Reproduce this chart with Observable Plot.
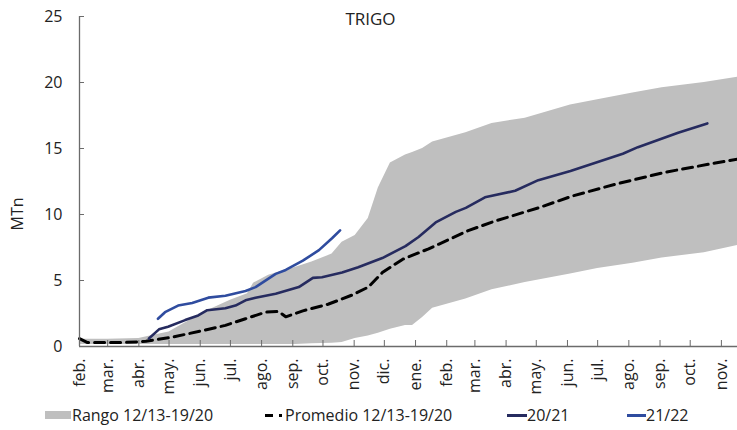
<!DOCTYPE html>
<html><head><meta charset="utf-8">
<script src="https://cdn.jsdelivr.net/npm/d3@7"></script>
<script src="https://cdn.jsdelivr.net/npm/@observablehq/plot@0.6"></script>
<style>
body{margin:0;background:#fff;font-family:"Open Sans",sans-serif;color:#222;}
#wrap{position:relative;width:737px;height:430px;overflow:hidden;}
#title{position:absolute;left:0;width:741px;top:7px;text-align:center;font-size:17px;line-height:24px;}
#ylab{position:absolute;left:17px;top:214px;transform:translate(-50%,-50%) rotate(-90deg);font-size:16px;white-space:nowrap;}
.lg{position:absolute;top:404px;font-size:16px;line-height:22px;white-space:nowrap;}
.sw{position:absolute;}
</style></head><body>
<div id="wrap">
  <div id="chart"></div>
  <div id="title">TRIGO</div>
  <div id="ylab">MTn</div>
  <div id="legend"></div>
</div>
<script>
// ---- data ----
const monthLabels = ["feb.","mar.","abr.","may.","jun.","jul.","ago.","sep.","oct.","nov.","dic.","ene.",
                     "feb.","mar.","abr.","may.","jun.","jul.","ago.","sep.","oct.","nov."];
const tickDates = ["2021-02-01","2021-03-01","2021-04-01","2021-05-01","2021-06-01","2021-07-01","2021-08-01",
  "2021-09-01","2021-10-01","2021-11-01","2021-12-01","2022-01-01","2022-02-01","2022-03-01","2022-04-01",
  "2022-05-01","2022-06-01","2022-07-01","2022-08-01","2022-09-01","2022-10-01","2022-11-01"];
const xDomain = ["2021-02-01","2022-11-17"];
const yTicks = [0,5,10,15,20,25];

const rangeDates = ["2021-02-01","2021-03-01","2021-04-01","2021-04-10","2021-05-01","2021-05-15","2021-06-01",
  "2021-06-08","2021-07-01","2021-07-18","2021-07-24","2021-08-08","2021-09-04","2021-09-20","2021-10-10",
  "2021-10-20","2021-11-02","2021-11-15","2021-11-25","2021-12-07","2021-12-22","2021-12-29","2022-01-08",
  "2022-01-18","2022-02-20","2022-03-18","2022-04-20","2022-06-04","2022-07-01","2022-08-05","2022-09-03",
  "2022-09-23","2022-10-15","2022-11-17"];
const rangeHigh = [0.55,0.55,0.6,0.75,1.1,1.7,2.4,2.7,3.5,4.0,4.8,5.4,6.0,6.4,7.0,7.9,8.4,9.7,12.0,13.9,
  14.5,14.7,15.0,15.5,16.2,16.9,17.3,18.3,18.7,19.2,19.6,19.8,20.0,20.4];
const rangeLow = [0.15,0.15,0.15,0.15,0.15,0.15,0.15,0.15,0.15,0.15,0.15,0.15,0.15,0.2,0.25,0.3,0.6,0.8,1.0,
  1.3,1.6,1.6,2.2,2.9,3.6,4.3,4.85,5.5,5.9,6.3,6.7,6.9,7.1,7.65];

const avgDates = ["2021-02-01","2021-02-09","2021-03-15","2021-04-01","2021-04-08","2021-05-04","2021-06-03",
  "2021-06-26","2021-07-16","2021-08-05","2021-08-18","2021-08-25","2021-09-11","2021-10-06","2021-10-30",
  "2021-11-15","2021-11-29","2021-12-19","2022-01-14","2022-02-23","2022-03-21","2022-05-03","2022-06-06",
  "2022-07-19","2022-09-06","2022-10-26","2022-11-17"];
const avgValues = [0.6,0.3,0.3,0.35,0.4,0.7,1.2,1.6,2.1,2.6,2.65,2.25,2.7,3.2,3.9,4.5,5.6,6.6,7.4,8.8,9.5,
  10.5,11.4,12.3,13.2,13.9,14.2];

const s2021Dates = ["2021-04-11","2021-04-21","2021-04-30","2021-05-17","2021-05-30","2021-06-08","2021-06-26",
  "2021-07-06","2021-07-16","2021-07-26","2021-08-15","2021-09-07","2021-09-21","2021-09-30","2021-10-20",
  "2021-11-05","2021-11-29","2021-12-22","2022-01-04","2022-01-21","2022-02-10","2022-02-20","2022-03-11",
  "2022-04-10","2022-05-03","2022-06-04","2022-07-26","2022-08-10","2022-09-19","2022-10-18"];
const s2021Values = [0.6,1.3,1.5,2.0,2.35,2.75,2.9,3.1,3.5,3.7,4.0,4.5,5.2,5.25,5.6,6.0,6.7,7.6,8.3,9.4,
  10.2,10.5,11.3,11.8,12.6,13.3,14.6,15.1,16.2,16.9];

const s2122Dates = ["2021-04-20","2021-04-27","2021-05-10","2021-05-24","2021-06-09","2021-06-26","2021-07-16",
  "2021-07-26","2021-08-15","2021-08-25","2021-09-11","2021-09-27","2021-10-10","2021-10-18"];
const s2122Values = [2.1,2.6,3.1,3.3,3.7,3.85,4.2,4.5,5.5,5.8,6.5,7.3,8.2,8.8];

const seriesNames = ["Rango 12/13-19/20","Promedio 12/13-19/20","20/21","21/22"];
const colors = {range:"#bfbfbf", avg:"#000000", s2021:"#262b5f", s2122:"#2f4c9f", axis:"#6b6b6b"};

// ---- build tables ----
const D = s => new Date(s);
const rangeData = rangeDates.map((d,i)=>({date:D(d), lo:rangeLow[i], hi:rangeHigh[i]}));
const avgData = avgDates.map((d,i)=>({date:D(d), v:avgValues[i]}));
const d2021 = s2021Dates.map((d,i)=>({date:D(d), v:s2021Values[i]}));
const d2122 = s2122Dates.map((d,i)=>({date:D(d), v:s2122Values[i]}));
const ticks = tickDates.map(D);
const labelOf = new Map(ticks.map((t,i)=>[+t, monthLabels[i]]));

const chart = Plot.plot({
  width: 737, height: 398,
  marginLeft: 79, marginRight: 0, marginTop: 16, marginBottom: 52,
  style: {fontFamily: '"Open Sans", sans-serif', fontSize: "16px", color: "#222", background: "#fff"},
  x: {type: "utc", domain: xDomain.map(D)},
  y: {domain: [0, 25]},
  marks: [
    Plot.areaY(rangeData, {x: "date", y1: "lo", y2: "hi", fill: colors.range}),
    Plot.line(avgData, {x: "date", y: "v", stroke: colors.avg, strokeWidth: 3, strokeDasharray: "10,6"}),
    Plot.line(d2021, {x: "date", y: "v", stroke: colors.s2021, strokeWidth: 2.6}),
    Plot.line(d2122, {x: "date", y: "v", stroke: colors.s2122, strokeWidth: 2.6}),
    Plot.ruleX([D(xDomain[0])], {stroke: colors.axis, strokeWidth: 1.3}),
    Plot.ruleY([0], {stroke: colors.axis, strokeWidth: 1.3}),
    Plot.axisY({ticks: yTicks, tickSize: -5, tickPadding: 22, label: null, stroke: colors.axis, fontSize: 16}),
    Plot.axisX({ticks: ticks, tickSize: -6, tickPadding: 18, tickRotate: -90, label: null,
      stroke: colors.axis, fontSize: 16, tickFormat: d => labelOf.get(+d)})
  ]
});
document.getElementById("chart").appendChild(chart);

// ---- legend ----
const lg = document.getElementById("legend");
function add(html){ lg.insertAdjacentHTML("beforeend", html); }
add(`<div class="sw" style="left:45px;top:411px;width:26px;height:8px;background:${colors.range}"></div>`);
add(`<div class="lg" style="left:72px">${seriesNames[0]}</div>`);
add(`<div class="sw" style="left:265px;top:414px;width:8px;height:3px;background:${colors.avg}"></div>`);
add(`<div class="sw" style="left:279px;top:414px;width:3px;height:3px;background:${colors.avg}"></div>`);
add(`<div class="lg" style="left:285px">${seriesNames[1]}</div>`);
add(`<div class="sw" style="left:507px;top:414px;width:20px;height:3px;background:${colors.s2021}"></div>`);
add(`<div class="lg" style="left:527px">${seriesNames[2]}</div>`);
add(`<div class="sw" style="left:627px;top:414px;width:19px;height:3px;background:${colors.s2122}"></div>`);
add(`<div class="lg" style="left:646px">${seriesNames[3]}</div>`);
</script>
</body></html>
